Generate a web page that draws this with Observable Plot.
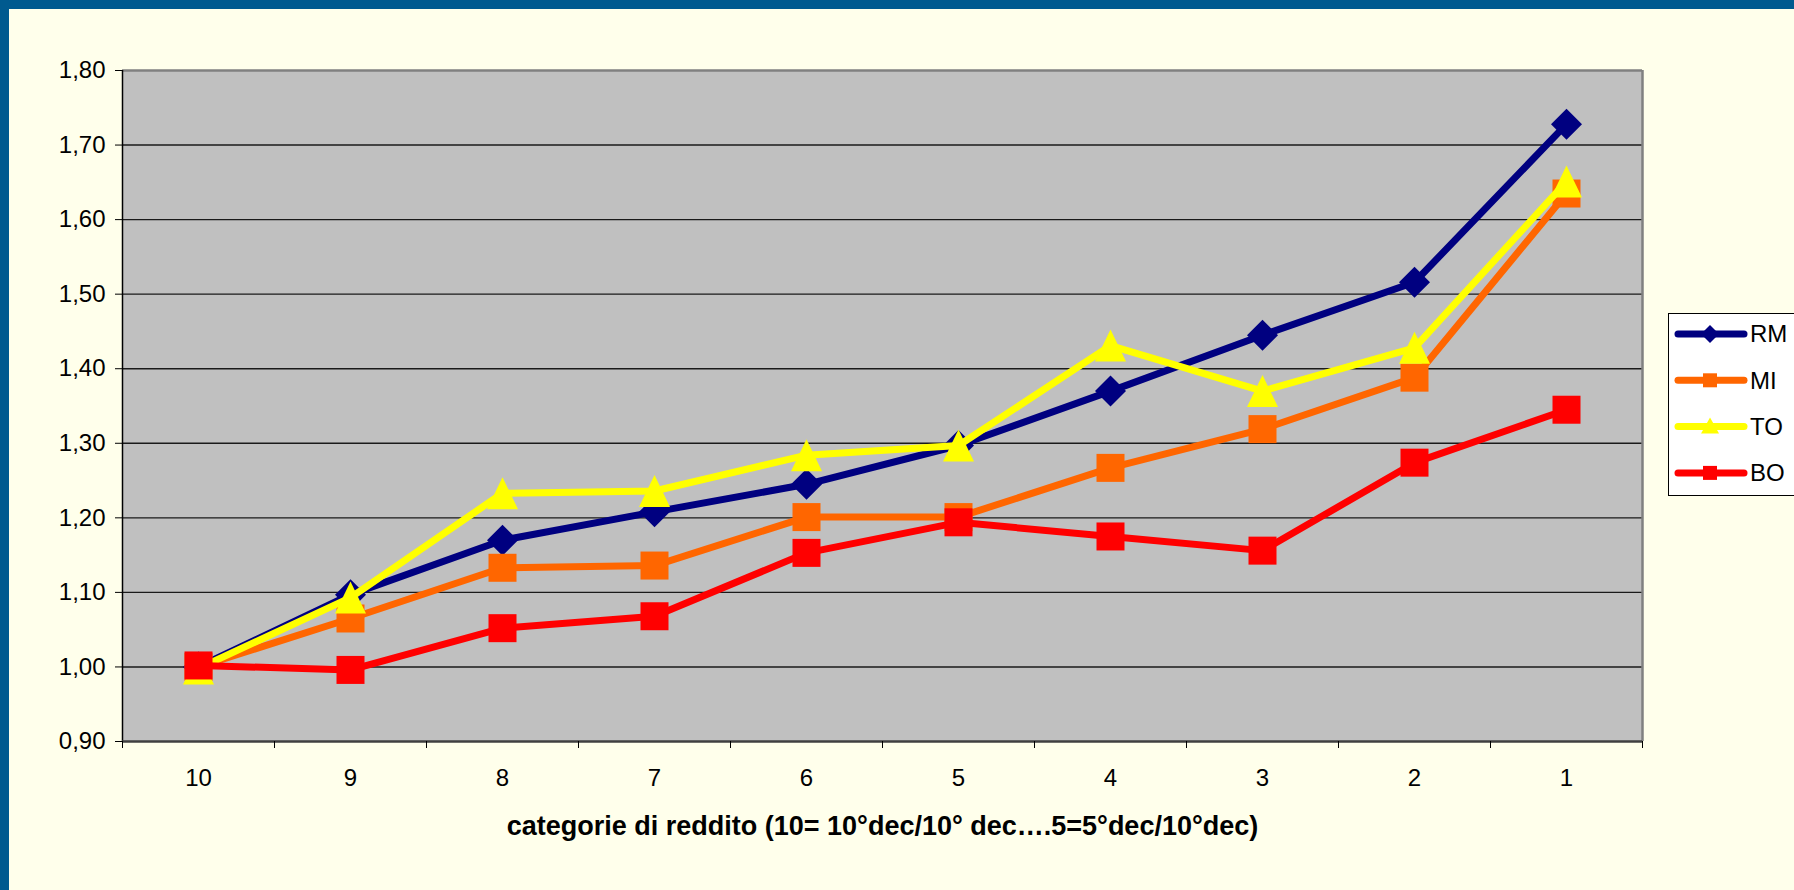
<!DOCTYPE html>
<html>
<head>
<meta charset="utf-8">
<script src="https://cdn.jsdelivr.net/npm/d3@7"></script>
<script src="https://cdn.jsdelivr.net/npm/@observablehq/plot@0.6"></script>
<style>
  html, body { margin: 0; padding: 0; width: 1794px; height: 890px; overflow: hidden; background: #FFFFEB; font-family: "Liberation Sans", Arial, sans-serif; }
  #wrap { position: relative; width: 1794px; height: 890px; }
  #chart { position: absolute; left: 0; top: 0; }
  .bt { position: absolute; left: 0; top: 0; width: 1794px; height: 9px; background: #005A8F; }
  .bl { position: absolute; left: 0; top: 0; width: 9px; height: 890px; background: #005A8F; }
  #legend { position: absolute; left: 1668px; top: 313px; width: 140px; height: 183px; background: #FFFFFF; border: 1.5px solid #000; box-sizing: border-box; }
</style>
</head>
<body>
<div id="wrap">
  <div id="chart"></div>
  <div class="bt"></div>
  <div class="bl"></div>
  <div id="legend"></div>
</div>
<script>
// ---- data ----
const categories = ["10", "9", "8", "7", "6", "5", "4", "3", "2", "1"];
const seriesNames = ["RM", "MI", "TO", "BO"];
const seriesColors = ["#000080", "#FF6600", "#FFFF00", "#FF0000"];
const seriesSymbols = ["diamond", "square", "triangle", "square"];
const valuesRM = [1.000, 1.097, 1.170, 1.208, 1.245, 1.297, 1.370, 1.445, 1.516, 1.728];
const valuesMI = [1.000, 1.065, 1.133, 1.136, 1.201, 1.201, 1.267, 1.319, 1.388, 1.635];
const valuesTO = [0.998, 1.093, 1.233, 1.236, 1.284, 1.297, 1.431, 1.370, 1.428, 1.651];
const valuesBO = [1.002, 0.996, 1.052, 1.068, 1.153, 1.194, 1.175, 1.156, 1.274, 1.345];
const yTicks = [0.9, 1.0, 1.1, 1.2, 1.3, 1.4, 1.5, 1.6, 1.7, 1.8];
const xTitle = "categorie di reddito (10= 10°dec/10° dec\u2026.5=5°dec/10°dec)";

const seriesValues = [valuesRM, valuesMI, valuesTO, valuesBO];

// ---- custom Excel-like marker symbols ----
const symDiamond = { draw(ctx) { const r = 15.5; ctx.moveTo(0, -r); ctx.lineTo(r, 0); ctx.lineTo(0, r); ctx.lineTo(-r, 0); ctx.closePath(); } };
const symSquare = { draw(ctx) { const r = 14; ctx.moveTo(-r, -r); ctx.lineTo(r, -r); ctx.lineTo(r, r); ctx.lineTo(-r, r); ctx.closePath(); } };
const symTriangle = { draw(ctx) { const w = 15.5, h = 16; ctx.moveTo(0, -h); ctx.lineTo(w, h); ctx.lineTo(-w, h); ctx.closePath(); } };
const symbolMap = { diamond: symDiamond, square: symSquare, triangle: symTriangle };

const fmt = d => d.toFixed(2).replace(".", ",");

const marks = [
  Plot.frame({ fill: "#C0C0C0", stroke: null }),
  Plot.ruleY(yTicks.slice(1, -1), { stroke: "#1a1a1a", strokeWidth: 1.4 }),
  Plot.ruleY([yTicks[yTicks.length - 1]], { stroke: "#808080", strokeWidth: 2.5 }),
  Plot.ruleX([categories.length], { stroke: "#808080", strokeWidth: 2.5 }),
  Plot.ruleX([0], { stroke: "#000", strokeWidth: 1.5 }),
  Plot.ruleY([yTicks[0]], { stroke: "#404040", strokeWidth: 2.5 }),
  Plot.axisY(yTicks, { tickSize: 7, tickPadding: 10, tickFormat: fmt, fontSize: 24, stroke: "#000", label: null }),
  Plot.axisX(d3.range(categories.length + 1), { tickSize: 7, tickFormat: () => "", stroke: "#000", label: null }),
  Plot.axisX(categories.map((c, i) => i + 0.5), { tickSize: 0, tickPadding: 27, tickFormat: (d, i) => categories[i], fontSize: 24, label: null }),
  Plot.text([xTitle], { frameAnchor: "bottom", dy: 93, fontSize: 27, fontWeight: "bold", fill: "#000" })
];

seriesNames.forEach((name, s) => {
  const rows = categories.map((c, i) => ({ pos: i + 0.5, value: seriesValues[s][i] }));
  marks.push(Plot.line(rows, { x: "pos", y: "value", stroke: seriesColors[s], strokeWidth: 7, strokeLinejoin: "round", strokeLinecap: "round" }));
  marks.push(Plot.dot(rows, { x: "pos", y: "value", fill: seriesColors[s], stroke: null, symbol: symbolMap[seriesSymbols[s]], r: 10 }));
});

const chart = Plot.plot({
  width: 1794,
  height: 890,
  marginLeft: 122,
  marginRight: 152,
  marginTop: 70,
  marginBottom: 149,
  x: { type: "linear", domain: [0, categories.length], label: null },
  y: { domain: [yTicks[0], yTicks[yTicks.length - 1]], label: null },
  style: { background: "transparent", fontFamily: "'Liberation Sans', Arial, sans-serif", fontSize: "24px", color: "#000", overflow: "visible" },
  marks
});
document.getElementById("chart").appendChild(chart);

// ---- legend ----
const legendSvg = d3.select("#legend").append("svg").attr("width", 140).attr("height", 180).style("position", "absolute").style("left", "-1.5px").style("top", "-1.5px");
const legendSyms = {
  diamond: "M0,-9L9,0L0,9L-9,0Z",
  square: "M-7,-7L7,-7L7,7L-7,7Z",
  triangle: "M0,-9L9,7L-9,7Z"
};
seriesNames.forEach((name, s) => {
  const g = legendSvg.append("g").attr("transform", `translate(0,${21 + s * 46.3})`);
  g.append("line").attr("x1", 10).attr("x2", 76).attr("y1", 0).attr("y2", 0)
    .attr("stroke", seriesColors[s]).attr("stroke-width", 7).attr("stroke-linecap", "round");
  g.append("path").attr("d", legendSyms[seriesSymbols[s]]).attr("transform", "translate(42,0)").attr("fill", seriesColors[s]);
  g.append("text").attr("x", 82).attr("y", 0).attr("dy", "0.35em").attr("font-size", 24)
    .attr("font-family", "'Liberation Sans', Arial, sans-serif").attr("fill", "#000").text(name);
});
</script>
</body>
</html>
